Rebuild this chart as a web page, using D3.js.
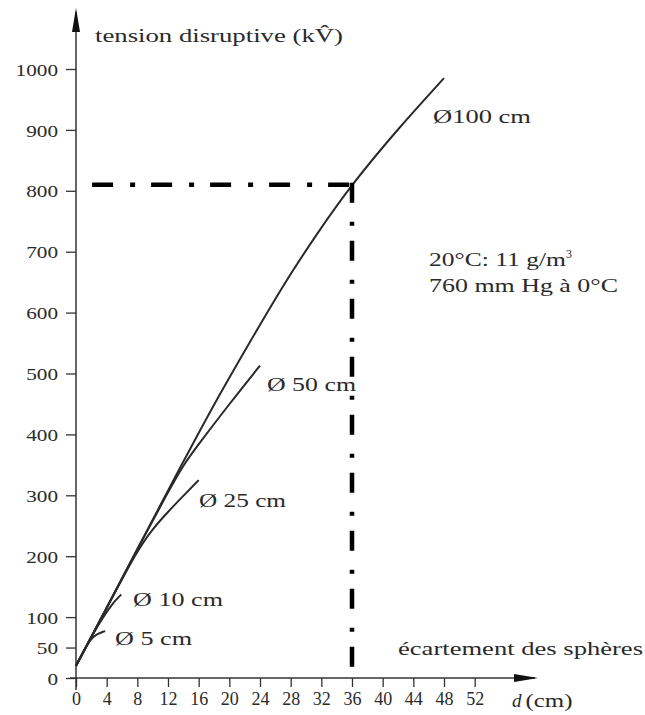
<!DOCTYPE html>
<html>
<head>
<meta charset="utf-8">
<script src="https://d3js.org/d3.v7.min.js"></script>
<style>
  html, body { margin: 0; padding: 0; background: #fff; }
  svg text { font-family: 'Liberation Serif', 'DejaVu Serif', serif; fill: #2a2a2a; }
</style>
</head>
<body>
<svg id="svg" width="645" height="715"></svg>
<script>
  // tick labels
  const xTicks = [0, 4, 8, 12, 16, 20, 24, 28, 32, 36, 40, 44, 48, 52];
  const yTicks = [0, 50, 100, 200, 300, 400, 500, 600, 700, 800, 900, 1000];

  // curves: [d (cm), kV]
  const sphere100 = [[0, 20], [4, 115], [8, 212], [13.6, 346], [18, 450], [22.7, 552], [27, 645], [31.5, 731], [36, 811], [42, 902], [48, 985]];
  const sphere50 = [[0, 20], [4, 115], [8, 212], [12, 305], [14, 350], [16, 384], [20, 450], [24, 513]];
  const sphere25 = [[0, 20], [4, 115], [8, 210], [10, 245], [12, 273], [14, 299], [16, 325]];
  const sphere10 = [[0, 20], [2.4, 78], [4.8, 124], [5.9, 137]];
  const sphere5 = [[0, 20], [1.2, 49], [2.2, 70], [3.8, 77]];

  const curveLabels = ["Ø 5 cm", "Ø 10 cm", "Ø 25 cm", "Ø 50 cm", "Ø100 cm"];
  const refPoint = [36, 810];

  const svg = d3.select("#svg");
  const x = d3.scaleLinear().domain([0, 60]).range([76, 536]);
  const y = d3.scaleLinear().domain([0, 1000]).range([678, 69]);

  // axes
  const xAxis = svg.append("g")
    .attr("transform", `translate(0,${y(0)})`)
    .call(d3.axisBottom(x).tickValues(xTicks).tickFormat(d3.format("d"))
      .tickSize(9).tickSizeOuter(0).tickPadding(5));
  const yAxis = svg.append("g")
    .attr("transform", `translate(${x(0)},0)`)
    .call(d3.axisLeft(y).tickValues(yTicks).tickFormat(d3.format("d"))
      .tickSize(10).tickSizeOuter(0).tickPadding(8));

  [xAxis, yAxis].forEach(g => {
    g.select(".domain").remove();
    g.selectAll("line").attr("stroke", "#333").attr("stroke-width", 1.3);
    g.selectAll("text").attr("fill", "#2a2a2a");
  });
  xAxis.selectAll("text").style("font-size", "18px");
  yAxis.selectAll("text")
    .style("font-size", "17px")
    .attr("dy", "0.36em")
    .attr("textLength", d => String(d).length * 10.6)
    .attr("lengthAdjust", "spacingAndGlyphs");

  // axis lines with arrow heads
  svg.append("line")
    .attr("x1", x(0)).attr("y1", y(0) + 12)
    .attr("x2", x(0)).attr("y2", 12)
    .attr("stroke", "#333").attr("stroke-width", 1.5);
  svg.append("path")
    .attr("d", `M${x(0)},8 L${x(0) - 4},32 L${x(0) + 4},32 Z`)
    .attr("fill", "#111");

  svg.append("line")
    .attr("x1", x(0) - 6).attr("y1", y(0))
    .attr("x2", 535).attr("y2", y(0))
    .attr("stroke", "#333").attr("stroke-width", 1.5);
  svg.append("path")
    .attr("d", `M538,${y(0)} L514,${y(0) - 4} L514,${y(0) + 4} Z`)
    .attr("fill", "#111");

  // curves
  const line = d3.line()
    .x(d => x(d[0]))
    .y(d => y(d[1]))
    .curve(d3.curveBasis);

  [sphere100, sphere50, sphere25, sphere10, sphere5].forEach(data => {
    svg.append("path")
      .datum(data)
      .attr("d", line)
      .attr("fill", "none")
      .attr("stroke", "#2a2a2a")
      .attr("stroke-width", 2);
  });

  // dash-dot reading lines
  svg.append("line")
    .attr("x1", x(2.1)).attr("y1", y(refPoint[1]))
    .attr("x2", x(refPoint[0]) + 1).attr("y2", y(refPoint[1]))
    .attr("stroke", "#000").attr("stroke-width", 4.5)
    .attr("stroke-dasharray", "21,17,5,16");
  svg.append("line")
    .attr("x1", x(refPoint[0])).attr("y1", y(refPoint[1]) - 2)
    .attr("x2", x(refPoint[0])).attr("y2", y(15))
    .attr("stroke", "#000").attr("stroke-width", 4.5)
    .attr("stroke-dasharray", "20,19,4,15");

  // texts (the printed font is wide: stretch to the measured widths)
  const label = (tx, ty, str, size, w) => svg.append("text")
    .attr("x", tx).attr("y", ty)
    .style("font-size", size + "px")
    .attr("textLength", w)
    .attr("lengthAdjust", "spacingAndGlyphs")
    .text(str);

  label(95, 42, "tension disruptive (kV\u0302)", 19, 248);
  label(398, 655, "écartement des sphères", 19, 245);
  const dl = svg.append("text").attr("x", 512).attr("y", 707).style("font-size", "19px");
  dl.append("tspan").style("font-style", "italic").text("d");
  dl.append("tspan").attr("dx", 4).attr("textLength", 47).attr("lengthAdjust", "spacingAndGlyphs").text("(cm)");

  const labelPos = [[115, 645, 77], [133, 606, 90], [199, 507, 87], [267, 391, 89], [433, 123, 98]];
  curveLabels.forEach((s, i) => label(labelPos[i][0], labelPos[i][1], s, 19, labelPos[i][2]));

  const note = svg.append("text").attr("x", 429).attr("y", 266).style("font-size", "18px");
  note.append("tspan").attr("textLength", 137).attr("lengthAdjust", "spacingAndGlyphs").text("20°C: 11 g/m");
  note.append("tspan").attr("dy", -8).style("font-size", "12px").text("3");
  label(429, 292, "760 mm Hg à 0°C", 18, 189);
</script>
</body>
</html>
